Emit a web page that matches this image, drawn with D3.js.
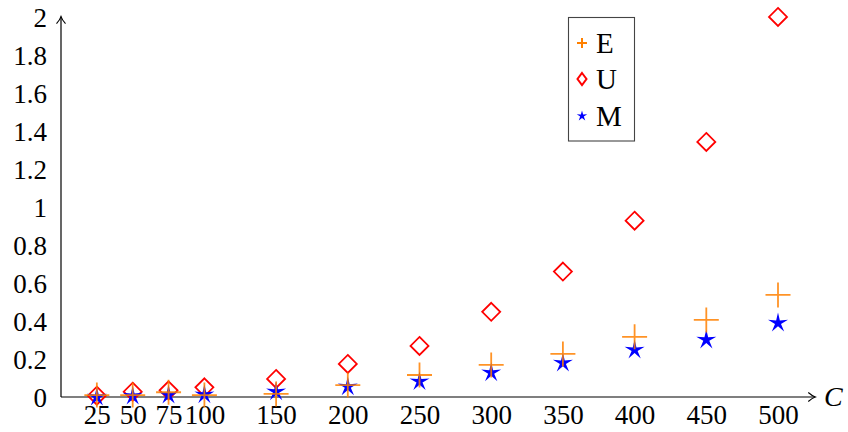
<!DOCTYPE html>
<html>
<head>
<meta charset="utf-8">
<script src="https://cdn.jsdelivr.net/npm/d3@7"></script>
<style>
  html, body { margin: 0; padding: 0; background: #fff; }
  svg { display: block; }
  text { font-family: "Liberation Serif", "DejaVu Serif", serif; fill: #000; }
</style>
</head>
<body>
<svg id="chart" width="848" height="432"></svg>
<script>
// Problem size C and measured values for the three methods
const C = [25, 50, 75, 100, 150, 200, 250, 300, 350, 400, 450, 500];
const E = [0.01, 0.01, 0.025, 0.01, 0.016, 0.063, 0.116, 0.169, 0.227, 0.317, 0.406, 0.538];
const U = [0.007, 0.028, 0.035, 0.051, 0.095, 0.174, 0.269, 0.449, 0.661, 0.929, 1.344, 2.003];
const M = [0.0, 0.005, 0.01, 0.012, 0.028, 0.054, 0.081, 0.128, 0.179, 0.248, 0.301, 0.39];
const yTicks = [0, 0.2, 0.4, 0.6, 0.8, 1, 1.2, 1.4, 1.6, 1.8, 2];
const seriesNames = ["E", "U", "M"];

const svg = d3.select("#chart");
const x = d3.scaleLinear().domain([0, 500]).range([61, 778]);
const y = d3.scaleLinear().domain([0, 2]).range([397, 17.5]);

const colors = { E: "#ff8000", U: "#ff0000", M: "#0000ff" };
const serif = '"Liberation Serif", "DejaVu Serif", serif';

// Axis lines with open arrow heads
const x0 = x(0), y0 = y(0);
const xEnd = x(526), yEnd = y(2.005);
svg.append("line").attr("x1", x0).attr("y1", y0).attr("x2", xEnd).attr("y2", y0)
  .attr("stroke", "#000").attr("stroke-width", 1.2);
svg.append("path").attr("d", `M${xEnd - 7},${y0 - 4.5} Q${xEnd - 3},${y0 - 1} ${xEnd},${y0} Q${xEnd - 3},${y0 + 1} ${xEnd - 7},${y0 + 4.5}`)
  .attr("fill", "none").attr("stroke", "#000").attr("stroke-width", 1.1);
svg.append("line").attr("x1", x0).attr("y1", y0).attr("x2", x0).attr("y2", yEnd)
  .attr("stroke", "#000").attr("stroke-width", 1.2);
svg.append("path").attr("d", `M${x0 - 4.5},${yEnd + 7} Q${x0 - 1},${yEnd + 3} ${x0},${yEnd} Q${x0 + 1},${yEnd + 3} ${x0 + 4.5},${yEnd + 7}`)
  .attr("fill", "none").attr("stroke", "#000").attr("stroke-width", 1.1);

// Tick labels via d3 axes (no tick lines, no domain path)
const fmt = d => String(+d.toFixed(1));
const yAxis = svg.append("g").attr("transform", `translate(${x0},0)`)
  .call(d3.axisLeft(y).tickValues(yTicks).tickSize(0).tickPadding(14).tickFormat(fmt))
  .attr("font-family", serif).attr("font-size", 27);
yAxis.select(".domain").remove();
yAxis.selectAll("text").attr("dy", "0.34em");

const xAxis = svg.append("g").attr("transform", `translate(0,${y0})`)
  .call(d3.axisBottom(x).tickValues(C).tickSize(0).tickPadding(6).tickFormat(d3.format("d")))
  .attr("font-family", serif).attr("font-size", 27);
xAxis.select(".domain").remove();
xAxis.selectAll("text").attr("dy", "0.78em");

svg.append("text").attr("x", 824).attr("y", y0 + 9).attr("font-size", 28)
  .style("font-style", "italic").text("C");

// Marker shapes
function plusPath(h) { return `M${-h},0H${h}M0,${-h}V${h}`; }
function diamondPath(w, h) { return `M0,${-h}L${w},0L0,${h}L${-w},0Z`; }
function starPath(R, ratio) {
  const r = R * ratio;
  let p = "";
  for (let i = 0; i < 10; i++) {
    const rad = i % 2 === 0 ? R : r;
    const a = -Math.PI / 2 + i * Math.PI / 5;
    p += (i ? "L" : "M") + (rad * Math.cos(a)).toFixed(2) + "," + (rad * Math.sin(a)).toFixed(2);
  }
  return p + "Z";
}

const plot = svg.append("g");
// U diamonds
plot.selectAll(".u").data(C).join("path")
  .attr("transform", (d, i) => `translate(${x(d)},${y(U[i])})`)
  .attr("d", diamondPath(9, 9))
  .attr("fill", "none").attr("stroke", colors.U).attr("stroke-width", 1.8);
// M stars
plot.selectAll(".m").data(C).join("path")
  .attr("transform", (d, i) => `translate(${x(d)},${y(M[i])})`)
  .attr("d", starPath(10.5, 0.3))
  .attr("fill", colors.M);
// E pluses
plot.selectAll(".e").data(C).join("path")
  .attr("transform", (d, i) => `translate(${x(d)},${y(E[i])})`)
  .attr("d", plusPath(12.5))
  .attr("fill", "none").attr("stroke", colors.E).attr("stroke-width", 1.8).attr("opacity", 0.85);

// Legend
const legend = svg.append("g");
legend.append("rect").attr("x", 568.5).attr("y", 17.5).attr("width", 66).attr("height", 123.5)
  .attr("fill", "#fff").attr("stroke", "#444").attr("stroke-width", 1.1);
const rowsY = [43, 79, 116];
seriesNames.forEach((name, i) => {
  const g = legend.append("g").attr("transform", `translate(582,${rowsY[i]})`);
  if (name === "E") g.append("path").attr("d", plusPath(5)).attr("stroke", colors.E).attr("stroke-width", 2).attr("fill", "none");
  if (name === "U") g.append("path").attr("d", diamondPath(4.5, 6)).attr("stroke", colors.U).attr("stroke-width", 2).attr("fill", "none");
  if (name === "M") g.append("path").attr("d", starPath(5.5, 0.35)).attr("fill", colors.M);
  legend.append("text").attr("x", 596).attr("y", rowsY[i]).attr("dy", "0.36em")
    .attr("font-size", 29).text(name);
});
</script>
</body>
</html>
